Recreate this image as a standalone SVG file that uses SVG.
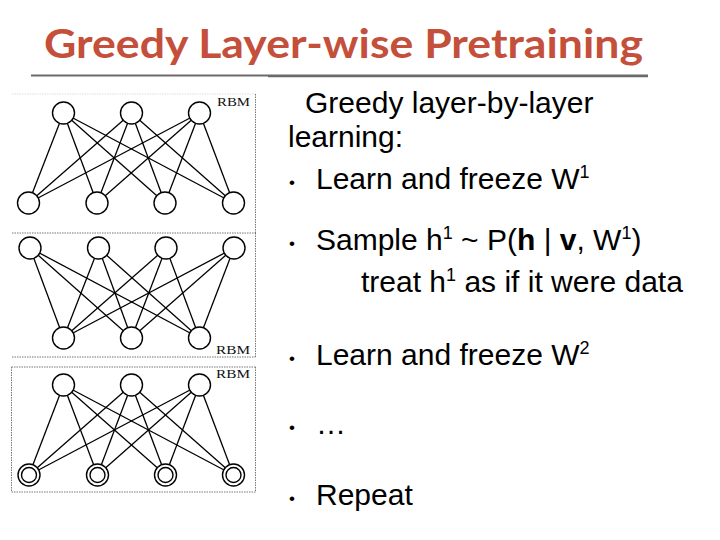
<svg xmlns="http://www.w3.org/2000/svg" width="720" height="540" viewBox="0 0 720 540">
<style>
.title{font-family:Lato,"Open Sans","Liberation Sans",sans-serif;font-weight:bold;font-size:40px;fill:#C44F3A}
.body{font-family:"Liberation Sans",Arial,sans-serif;font-size:30px;fill:#000}
.sup{font-size:18px}
.bul{font-family:"Liberation Sans",Arial,sans-serif;font-size:17px;fill:#000}
.rbm{font-family:"Liberation Serif","Times New Roman",serif;font-size:11.5px;fill:#111}
.node{fill:#fff;stroke:#000;stroke-width:1.4}
.edge{stroke:#000;stroke-width:1.3}
.box{stroke:#777;stroke-width:1;stroke-dasharray:1.5 1;fill:none}
</style>
<rect width="720" height="540" fill="#fff"/>
<text class="title" x="44" y="57.5" textLength="599" lengthAdjust="spacingAndGlyphs">Greedy Layer-wise Pretraining</text>
<line x1="31" y1="75.5" x2="268" y2="75.5" stroke="#6a6a6a" stroke-width="2"/>
<line x1="268" y1="75.8" x2="648" y2="75.8" stroke="#6a6a6a" stroke-width="2.8"/>

<g id="boxes">
<line class="box" x1="12" y1="94" x2="255.5" y2="94" style="stroke:#ddd"/>
<line class="box" x1="255.5" y1="94" x2="255.5" y2="233"/>
<line class="box" x1="12" y1="233" x2="255.5" y2="233"/>
<line class="box" x1="255.5" y1="233" x2="255.5" y2="357"/>
<line class="box" x1="12" y1="357" x2="255.5" y2="357"/>
<line class="box" x1="11.5" y1="367" x2="255.5" y2="367"/>
<line class="box" x1="255.5" y1="367" x2="255.5" y2="492"/>
<line class="box" x1="11.5" y1="492" x2="255.5" y2="492"/>
<line class="box" x1="11.5" y1="367" x2="11.5" y2="492"/>
<text class="rbm" x="217" y="106" textLength="33" lengthAdjust="spacingAndGlyphs">RBM</text>
<text class="rbm" x="216" y="354" textLength="34" lengthAdjust="spacingAndGlyphs">RBM</text>
<text class="rbm" x="216" y="378" textLength="34" lengthAdjust="spacingAndGlyphs">RBM</text>
</g>

<g id="connectors">
<!-- block 1 -->
<line class="edge" x1="63.5" y1="113" x2="28.5" y2="203"/>
<line class="edge" x1="63.5" y1="113" x2="97" y2="203"/>
<line class="edge" x1="63.5" y1="113" x2="165" y2="203"/>
<line class="edge" x1="63.5" y1="113" x2="233.5" y2="203"/>
<line class="edge" x1="131.5" y1="113" x2="28.5" y2="203"/>
<line class="edge" x1="131.5" y1="113" x2="97" y2="203"/>
<line class="edge" x1="131.5" y1="113" x2="165" y2="203"/>
<line class="edge" x1="131.5" y1="113" x2="233.5" y2="203"/>
<line class="edge" x1="199.5" y1="113" x2="28.5" y2="203"/>
<line class="edge" x1="199.5" y1="113" x2="97" y2="203"/>
<line class="edge" x1="199.5" y1="113" x2="165" y2="203"/>
<line class="edge" x1="199.5" y1="113" x2="233.5" y2="203"/>
<!-- block 2 -->
<line class="edge" x1="30" y1="248" x2="63.5" y2="338"/>
<line class="edge" x1="30" y1="248" x2="131.5" y2="338"/>
<line class="edge" x1="30" y1="248" x2="199.5" y2="338"/>
<line class="edge" x1="98.5" y1="248" x2="63.5" y2="338"/>
<line class="edge" x1="98.5" y1="248" x2="131.5" y2="338"/>
<line class="edge" x1="98.5" y1="248" x2="199.5" y2="338"/>
<line class="edge" x1="166" y1="248" x2="63.5" y2="338"/>
<line class="edge" x1="166" y1="248" x2="131.5" y2="338"/>
<line class="edge" x1="166" y1="248" x2="199.5" y2="338"/>
<line class="edge" x1="234" y1="248" x2="63.5" y2="338"/>
<line class="edge" x1="234" y1="248" x2="131.5" y2="338"/>
<line class="edge" x1="234" y1="248" x2="199.5" y2="338"/>
<!-- block 3 -->
<line class="edge" x1="63.5" y1="385" x2="29" y2="475"/>
<line class="edge" x1="63.5" y1="385" x2="97.5" y2="475"/>
<line class="edge" x1="63.5" y1="385" x2="165.5" y2="475"/>
<line class="edge" x1="63.5" y1="385" x2="233.5" y2="475"/>
<line class="edge" x1="131.5" y1="385" x2="29" y2="475"/>
<line class="edge" x1="131.5" y1="385" x2="97.5" y2="475"/>
<line class="edge" x1="131.5" y1="385" x2="165.5" y2="475"/>
<line class="edge" x1="131.5" y1="385" x2="233.5" y2="475"/>
<line class="edge" x1="199.5" y1="385" x2="29" y2="475"/>
<line class="edge" x1="199.5" y1="385" x2="97.5" y2="475"/>
<line class="edge" x1="199.5" y1="385" x2="165.5" y2="475"/>
<line class="edge" x1="199.5" y1="385" x2="233.5" y2="475"/>
</g>

<g id="n1a"><circle class="node" cx="63.5" cy="113" r="11"/></g>
<g id="n1b"><circle class="node" cx="131.5" cy="113" r="11"/></g>
<g id="n1c"><circle class="node" cx="199.5" cy="113" r="11"/></g>
<g id="n1d"><circle class="node" cx="28.5" cy="203" r="11"/></g>
<g id="n1e"><circle class="node" cx="97" cy="203" r="11"/></g>
<g id="n1f"><circle class="node" cx="165" cy="203" r="11"/></g>
<g id="n1g"><circle class="node" cx="233.5" cy="203" r="11"/></g>

<g id="n2a"><circle class="node" cx="30" cy="248" r="11"/></g>
<g id="n2b"><circle class="node" cx="98.5" cy="248" r="11"/></g>
<g id="n2c"><circle class="node" cx="166" cy="248" r="11"/></g>
<g id="n2d"><circle class="node" cx="234" cy="248" r="11"/></g>
<g id="n2e"><circle class="node" cx="63.5" cy="338" r="11"/></g>
<g id="n2f"><circle class="node" cx="131.5" cy="338" r="11"/></g>
<g id="n2g"><circle class="node" cx="199.5" cy="338" r="11"/></g>

<g id="n3a"><circle class="node" cx="63.5" cy="385" r="11"/></g>
<g id="n3b"><circle class="node" cx="131.5" cy="385" r="11"/></g>
<g id="n3c"><circle class="node" cx="199.5" cy="385" r="11"/></g>
<g id="n3d"><circle class="node" cx="29" cy="475" r="11"/><circle class="node" cx="29" cy="475" r="7.5"/></g>
<g id="n3e"><circle class="node" cx="97.5" cy="475" r="11"/><circle class="node" cx="97.5" cy="475" r="7.5"/></g>
<g id="n3f"><circle class="node" cx="165.5" cy="475" r="11"/><circle class="node" cx="165.5" cy="475" r="7.5"/></g>
<g id="n3g"><circle class="node" cx="233.5" cy="475" r="11"/><circle class="node" cx="233.5" cy="475" r="7.5"/></g>

<g id="text">
<text class="body" x="305" y="113">Greedy layer-by-layer</text>
<text class="body" x="288" y="147">learning:</text>
<text class="bul" x="289" y="188">•</text>
<text class="body" x="316" y="189">Learn and freeze W<tspan class="sup" dy="-11">1</tspan></text>
<text class="bul" x="289" y="249">•</text>
<text class="body" x="316" y="250">Sample h<tspan class="sup" dy="-11">1</tspan><tspan dy="11"> ~ P(</tspan><tspan font-weight="bold">h</tspan> | <tspan font-weight="bold">v</tspan>, W<tspan class="sup" dy="-11">1</tspan><tspan dy="11">)</tspan></text>
<text class="body" x="361" y="292">treat h<tspan class="sup" dy="-11">1</tspan><tspan dy="11"> as if it were data</tspan></text>
<text class="bul" x="289" y="364">•</text>
<text class="body" x="316" y="365">Learn and freeze W<tspan class="sup" dy="-11">2</tspan></text>
<text class="bul" x="289" y="433">•</text>
<text class="body" x="316" y="434">…</text>
<text class="bul" x="289" y="504">•</text>
<text class="body" x="316" y="505">Repeat</text>
</g>
</svg>
